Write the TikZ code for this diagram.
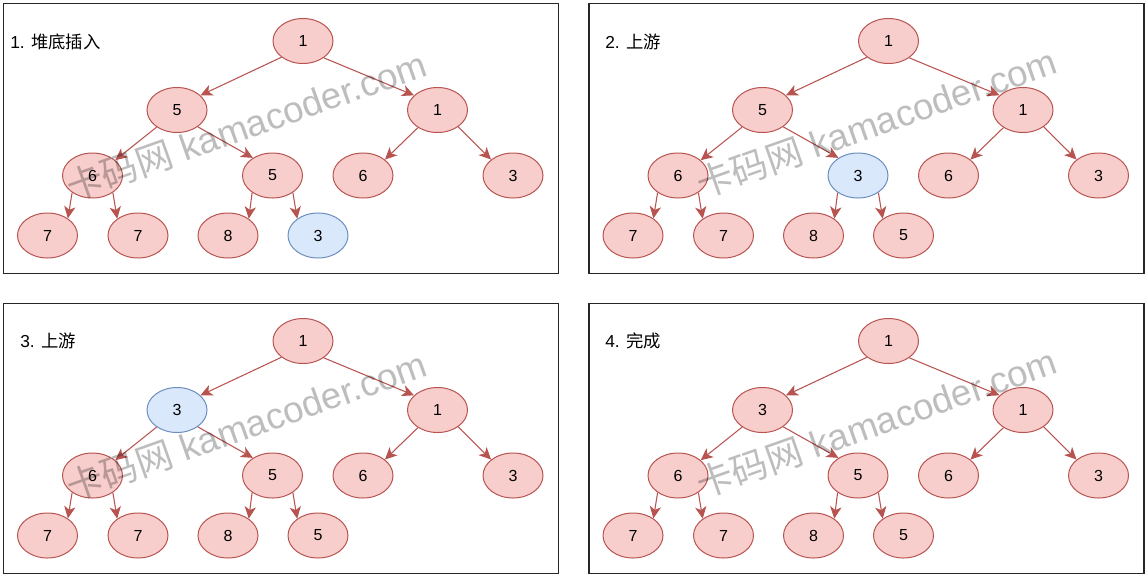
\documentclass[tikz,border=0pt]{standalone}
\usepackage{fontspec}
\setmainfont{Liberation Sans}
\newfontfamily\cjk{Noto Sans CJK SC}
\usetikzlibrary{arrows.meta,shapes.geometric}
\definecolor{rstroke}{HTML}{B85450}
\definecolor{rfill}{HTML}{F8CECC}
\definecolor{bstroke}{HTML}{6C8EBF}
\definecolor{bfill}{HTML}{DAE8FC}
\newcommand\treeedges[1]{%
  \draw[edge] (#1r.217) -- (#1L.32);
  \draw[edge] (#1r.-39) -- (#1R.148);
  \draw[edge] (#1L.220) -- (#1LL.34);
  \draw[edge] (#1L.-39) -- (#1LR.138);
  \draw[edge] (#1R.222) -- (#1RL.36);
  \draw[edge] (#1R.-39) -- (#1RR.144);
  \draw[edge] (#1LL.220) -- (#1LLL.40);
  \draw[edge] (#1LL.-40) -- (#1LLR.141);
  \draw[edge] (#1LR.220) -- (#1LRL.39);
  \draw[edge] (#1LR.-40) -- (#1LRR.141);
}
\begin{document}
\begin{tikzpicture}[x=0.75pt,y=-0.75pt,
  hn/.style={ellipse, draw=rstroke, fill=rfill, line width=0.75pt,
    minimum width=45pt, minimum height=33.75pt, inner sep=0pt,
    font=\fontsize{12}{14}\selectfont},
  bn/.style={hn, draw=bstroke, fill=bfill},
  edge/.style={draw=rstroke, line width=0.8pt,
    -{Stealth[length=9pt,width=8.5pt,inset=2.5pt]}},
  frame/.style={draw=black!85, line width=1.1pt},
  ttl/.style={anchor=west, inner sep=0pt, font=\fontsize{13}{15}\selectfont},
  wm/.style={anchor=base, inner sep=0pt, rotate=19.5, text=black, text opacity=0.26,
    font=\fontsize{27.5}{30}\selectfont}]
\useasboundingbox (0,0) rectangle (1148,579);

% ---------- panel 1 ----------
\draw[frame] (3.5,3.5) rectangle (558.5,273.5);
\node[ttl] (at) at (10,42) {1. {\cjk 堆底插入}};
\node[hn] (ar) at (303,41) {1};
\node[hn] (aL) at (177,110) {5};
\node[hn] (aR) at (437.5,110) {1};
\node[hn] (aLL) at (92.5,175.5) {6};
\node[hn] (aLR) at (272.5,175.5) {5};
\node[hn] (aRL) at (363,175.5) {6};
\node[hn] (aRR) at (513,175.5) {3};
\node[hn] (aLLL) at (47.5,235.5) {7};
\node[hn] (aLLR) at (138,235.5) {7};
\node[hn] (aLRL) at (228,235.5) {8};
\node[bn] (aLRR) at (318,235.5) {3};
\treeedges{a}

% ---------- panel 2 ----------
\begin{scope}[shift={(585.5,0)}]
\draw[frame] (3.5,3.5) rectangle (558.5,273.5);
\node[ttl] (bt) at (19.5,42) {2. {\cjk 上游}};
\node[hn] (br) at (303,41) {1};
\node[hn] (bL) at (177,110) {5};
\node[hn] (bR) at (437.5,110) {1};
\node[hn] (bLL) at (92.5,175.5) {6};
\node[bn] (bLR) at (272.5,175.5) {3};
\node[hn] (bRL) at (363,175.5) {6};
\node[hn] (bRR) at (513,175.5) {3};
\node[hn] (bLLL) at (47.5,235.5) {7};
\node[hn] (bLLR) at (138,235.5) {7};
\node[hn] (bLRL) at (228,235.5) {8};
\node[hn] (bLRR) at (318,235.5) {5};
\treeedges{b}
\end{scope}

% ---------- panel 3 ----------
\begin{scope}[shift={(0,300)}]
\draw[frame] (3.5,3.5) rectangle (558.5,273.5);
\node[ttl] (ct) at (20,41) {3. {\cjk 上游}};
\node[hn] (cr) at (303,41) {1};
\node[bn] (cL) at (177,110) {3};
\node[hn] (cR) at (437.5,110) {1};
\node[hn] (cLL) at (92.5,175.5) {6};
\node[hn] (cLR) at (272.5,175.5) {5};
\node[hn] (cRL) at (363,175.5) {6};
\node[hn] (cRR) at (513,175.5) {3};
\node[hn] (cLLL) at (47.5,235.5) {7};
\node[hn] (cLLR) at (138,235.5) {7};
\node[hn] (cLRL) at (228,235.5) {8};
\node[hn] (cLRR) at (318,235.5) {5};
\treeedges{c}
\end{scope}

% ---------- panel 4 ----------
\begin{scope}[shift={(585.5,300)}]
\draw[frame] (3.5,3.5) rectangle (558.5,273.5);
\node[ttl] (dt) at (19.5,41) {4. {\cjk 完成}};
\node[hn] (dr) at (303,41) {1};
\node[hn] (dL) at (177,110) {3};
\node[hn] (dR) at (437.5,110) {1};
\node[hn] (dLL) at (92.5,175.5) {6};
\node[hn] (dLR) at (272.5,175.5) {5};
\node[hn] (dRL) at (363,175.5) {6};
\node[hn] (dRR) at (513,175.5) {3};
\node[hn] (dLLL) at (47.5,235.5) {7};
\node[hn] (dLLR) at (138,235.5) {7};
\node[hn] (dLRL) at (228,235.5) {8};
\node[hn] (dLRR) at (318,235.5) {5};
\treeedges{d}
\end{scope}

% ---------- watermarks ----------
\node[wm] (wa) at (251,138.5) {{\cjk 卡码网} kamacoder.com};
\node[wm] (wb) at (881,135.5) {{\cjk 卡码网} kamacoder.com};
\node[wm] (wc) at (251,438.5) {{\cjk 卡码网} kamacoder.com};
\node[wm] (wd) at (881,435.5) {{\cjk 卡码网} kamacoder.com};
\end{tikzpicture}
\end{document}
